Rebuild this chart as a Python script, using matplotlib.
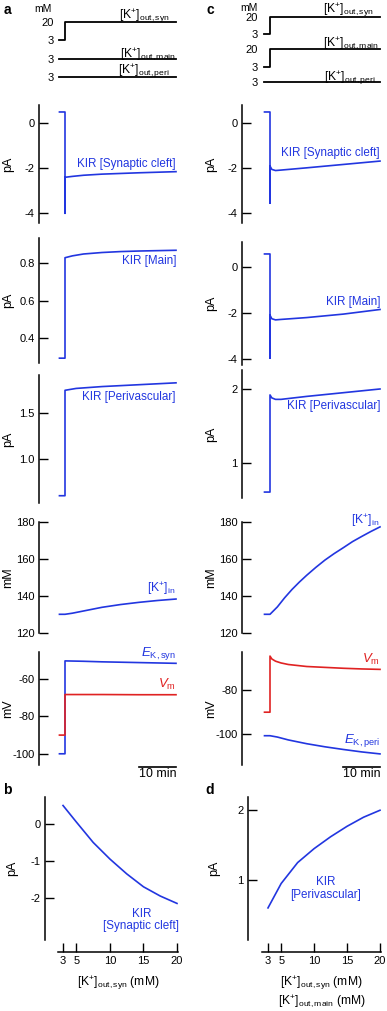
import numpy as np
import matplotlib.pyplot as plt

plt.rcParams['font.family'] = ['Liberation Sans', 'DejaVu Sans']
plt.rcParams['mathtext.fontset'] = 'custom'
plt.rcParams['mathtext.rm'] = 'Liberation Sans'
plt.rcParams['mathtext.it'] = 'Liberation Sans:italic'
plt.rcParams['mathtext.bf'] = 'Liberation Sans:bold'
plt.rcParams['axes.unicode_minus'] = False

BLUE = '#2236e0'
RED = '#e02222'

# ---- time courses (min), [K+]out step at t = 0 ----
# column a : only synaptic cleft K+ raised
a_kout_t = [-1.5, 0, 0, 30]
a_syn_k = [3, 3, 20, 20]
a_main_k = [3, 3, 3, 3]
a_peri_k = [3, 3, 3, 3]

a_syn_t = [-1.5, 0, 0, 0, 2, 5, 10, 20, 30]
a_syn_i = [0.5, 0.5, -4.0, -2.4, -2.36, -2.31, -2.26, -2.2, -2.15]
a_main_t = [-1.5, 0, 0, 2, 5, 10, 15, 20, 25, 30]
a_main_i = [0.29, 0.29, 0.83, 0.84, 0.85, 0.858, 0.863, 0.866, 0.868, 0.87]
a_peri_t = [-1.5, 0, 0, 3, 10, 20, 30]
a_peri_i = [0.61, 0.61, 1.74, 1.76, 1.78, 1.80, 1.82]
a_kin_t = [-1.5, 0, 2, 5, 10, 15, 20, 25, 30]
a_kin = [130, 130, 130.6, 131.8, 133.8, 135.3, 136.5, 137.5, 138.3]
a_ek_t = [-1.5, 0, 0, 5, 10, 20, 30]
a_ek = [-100, -100, -50.3, -50.5, -50.8, -51.2, -51.6]
a_vm_t = [-1.5, 0, 0, 10, 20, 30]
a_vm = [-90, -90, -68.3, -68.3, -68.4, -68.4]

# column c : synaptic cleft and main K+ raised
c_kout_t = [-1.5, 0, 0, 30]
c_syn_k = [3, 3, 20, 20]
c_main_k = [3, 3, 20, 20]
c_peri_k = [3, 3, 3, 3]

c_syn_t = [-1.5, 0, 0, 0, 0.5, 1.5, 3, 10, 20, 30]
c_syn_i = [0.5, 0.5, -3.55, -1.9, -2.05, -2.1, -2.08, -1.98, -1.83, -1.68]
c_main_t = [-1.5, 0, 0, 0, 0.5, 1.5, 3, 10, 20, 30]
c_main_i = [0.55, 0.55, -3.95, -2.1, -2.25, -2.3, -2.28, -2.2, -2.05, -1.85]
c_peri_t = [-1.5, 0, 0, 0.5, 1.5, 3, 10, 20, 30]
c_peri_i = [0.61, 0.61, 1.92, 1.88, 1.86, 1.86, 1.9, 1.95, 2.0]
c_kin_t = [-1.5, 0, 2, 4, 6, 8, 10, 12.5, 15, 17.5, 20, 22.5, 25, 27.5, 30]
c_kin = [130, 130, 134, 139, 143.5, 147.5, 151.2, 155.5, 159.5, 163, 166.2,
         169.5, 172.3, 175, 177.5]
c_vm_t = [-1.5, 0, 0, 0.5, 1.5, 3, 5, 10, 15, 20, 25, 30]
c_vm = [-90, -90, -64.7, -66, -67, -67.8, -68.5, -69.4, -69.8, -70.2, -70.5, -70.7]
c_ek_t = [-1.5, 0, 2, 5, 10, 15, 20, 25, 30]
c_ek = [-100.6, -100.6, -101.2, -102.5, -104.2, -105.6, -106.8, -107.9, -108.8]

# ---- steady state vs [K+]out ----
b_kout = [3, 5, 7.5, 10, 12.5, 15, 17.5, 20]
b_kir_syn = [0.5, 0.05, -0.5, -0.95, -1.35, -1.7, -1.95, -2.15]
d_kout = [3, 5, 7.5, 10, 12.5, 15, 17.5, 20]
d_kir_peri = [0.6, 0.95, 1.25, 1.45, 1.62, 1.77, 1.9, 2.0]

W, H = 387, 1011
fig = plt.figure(figsize=(W / 100, H / 100), dpi=100)

# x0 = pixel of t=0, s = pixels per min, spine x, right edge
COLS = {'a': (65, 3.7, 39, 178), 'c': (270, 3.667, 242, 381)}
FS = 8        # tick labels
LFS = 8.4     # trace labels
KFS = 8.7     # [K+] labels
YFS = 9       # axis labels


def px_axes(left, top, right, bottom):
    return fig.add_axes([left / W, 1 - bottom / H, (right - left) / W, (bottom - top) / H])


def trace_axes(col, top, bottom, ylim, yticks, left=None, spine=True):
    x0, s, l, r = COLS[col]
    if left is None:
        left = l
    ax = px_axes(left, top, r, bottom)
    ax.set_xlim((left - x0) / s, (r - x0) / s)
    ax.set_ylim(*ylim)
    ax.patch.set_visible(False)
    for sp in ['top', 'right', 'bottom']:
        ax.spines[sp].set_visible(False)
    ax.spines['left'].set_visible(spine)
    ax.spines['left'].set_linewidth(1.1)
    ax.set_xticks([])
    ax.set_yticks(yticks)
    ax.tick_params(axis='y', direction='in', length=6.5 if spine else 0,
                   width=1, pad=3 if spine else 2, labelsize=FS)
    return ax


def tag(ax, text, t, y, dx, dy, color, size=LFS, va='center'):
    # dx, dy in pixels (dy positive = downward)
    ax.annotate(text, (t, y), xytext=(dx * 0.72, -dy * 0.72), textcoords='offset points',
                ha='right', va=va, color=color, fontsize=size)


def ylab(ax, text):
    ax.set_ylabel(text, fontsize=YFS)
    ax.yaxis.set_label_coords(-0.18, 0.5)


# ---- [K+]out protocol traces ----
kout_rows = {
    'a': [(22.3, 40, a_syn_k, [3, 20], r'[K$^{+}$]$_{\mathrm{out,syn}}$', -6, 3),
          (41.3, 59, a_main_k, [3], r'[K$^{+}$]$_{\mathrm{out,main}}$', 0, 4),
          (59.6, 77.3, a_peri_k, [3], r'[K$^{+}$]$_{\mathrm{out,peri}}$', -6, 3)],
    'c': [(16.7, 34.3, c_syn_k, [3, 20], r'[K$^{+}$]$_{\mathrm{out,syn}}$', -6, 2),
          (49.3, 66.7, c_main_k, [3, 20], r'[K$^{+}$]$_{\mathrm{out,main}}$', -1, 3),
          (64, 81.7, c_peri_k, [3], r'[K$^{+}$]$_{\mathrm{out,peri}}$', -4, 5)],
}
kout_t = {'a': a_kout_t, 'c': c_kout_t}
kout_left = {'a': 57, 'c': 261}
for col, rows in kout_rows.items():
    for top, bot, vals, ticks, lab, dx, gap in rows:
        ax = trace_axes(col, top, bot, (3, 20), ticks, left=kout_left[col], spine=False)
        ax.plot(kout_t[col], vals, color='black', lw=1.3, clip_on=False)
        tag(ax, lab, 30, vals[-1], dx, gap, 'black', size=KFS, va='bottom')

fig.text(43 / W, 1 - 9 / H, 'mM', ha='center', va='center', fontsize=7.5)
fig.text(249 / W, 1 - 8 / H, 'mM', ha='center', va='center', fontsize=7.5)

# ---- KIR currents ----
ax = trace_axes('a', 105, 223, (-4.43, 0.81), [-4, -2, 0])
ax.plot(a_syn_t, a_syn_i, color=BLUE, lw=1.2)
tag(ax, 'KIR [Synaptic cleft]', 30, a_syn_i[-1], 0, -7.7, BLUE)
ylab(ax, 'pA')

ax = trace_axes('c', 105, 223, (-4.43, 0.81), [-4, -2, 0])
ax.plot(c_syn_t, c_syn_i, color=BLUE, lw=1.2)
tag(ax, 'KIR [Synaptic cleft]', 30, c_syn_i[-1], 0, -7.7, BLUE)
ylab(ax, 'pA')

ax = trace_axes('a', 238, 363, (0.264, 0.936), [0.4, 0.6, 0.8])
ax.plot(a_main_t, a_main_i, color=BLUE, lw=1.2)
tag(ax, 'KIR [Main]', 30, a_main_i[-1], 0, 10.3, BLUE)
ylab(ax, 'pA')

ax = trace_axes('c', 241.7, 365, (-4.25, 1.08), [-4, -2, 0])
ax.plot(c_main_t, c_main_i, color=BLUE, lw=1.2)
tag(ax, 'KIR [Main]', 30, c_main_i[-1], 0, -7.3, BLUE)
ylab(ax, 'pA')

ax = trace_axes('a', 375, 503, (0.532, 1.904), [1, 1.5])
ax.plot(a_peri_t, a_peri_i, color=BLUE, lw=1.2)
tag(ax, 'KIR [Perivascular]', 30, a_peri_i[-1], 0, 14, BLUE)
ylab(ax, 'pA')

ax = trace_axes('c', 370, 498, (0.53, 2.256), [1, 2])
ax.plot(c_peri_t, c_peri_i, color=BLUE, lw=1.2)
tag(ax, 'KIR [Perivascular]', 30, c_peri_i[-1], 0, 16.7, BLUE)
ylab(ax, 'pA')

# ---- intracellular K+ ----
ax = trace_axes('a', 522.3, 632.7, (120, 180), [120, 140, 160, 180])
ax.plot(a_kin_t, a_kin, color=BLUE, lw=1.2)
tag(ax, r'[K$^{+}$]$_{\mathrm{in}}$', 30, a_kin[-1], 0, -10, BLUE, size=KFS)
ylab(ax, 'mM')

ax = trace_axes('c', 522.3, 632.7, (120, 180), [120, 140, 160, 180])
ax.plot(c_kin_t, c_kin, color=BLUE, lw=1.2)
tag(ax, r'[K$^{+}$]$_{\mathrm{in}}$', 30, c_kin[-1], 0, -6, BLUE, size=KFS)
ylab(ax, 'mM')


# ---- potentials ----
def scale_bar(ax):
    ax.plot([20, 30], [-0.015, -0.015], color='black', lw=1.2, clip_on=False,
            transform=ax.get_xaxis_transform())
    ax.text(25, -0.03, '10 min', ha='center', va='top', fontsize=8.9,
            transform=ax.get_xaxis_transform())


ax = trace_axes('a', 652.3, 765, (-106, -45.7), [-100, -80, -60])
ax.plot(a_ek_t, a_ek, color=BLUE, lw=1.2)
ax.plot(a_vm_t, a_vm, color=RED, lw=1.2)
tag(ax, r'$E_{\mathrm{K,syn}}$', 30, a_ek[-1], 0, -10, BLUE, size=9.5)
tag(ax, r'$V_{\mathrm{m}}$', 30, a_vm[-1], 0, -10, RED, size=9.5)
ylab(ax, 'mV')
scale_bar(ax)

ax = trace_axes('c', 652.3, 765, (-113.8, -63), [-100, -80])
ax.plot(c_vm_t, c_vm, color=RED, lw=1.2)
ax.plot(c_ek_t, c_ek, color=BLUE, lw=1.2)
tag(ax, r'$V_{\mathrm{m}}$', 30, c_vm[-1], 0, -10, RED, size=9.5)
tag(ax, r'$E_{\mathrm{K,peri}}$', 30, c_ek[-1], 0, -13, BLUE, size=9.5)
ylab(ax, 'mV')
scale_bar(ax)


# ---- steady state panels b, d ----
def ss_axes(left, right, top, bottom, xlim, ylim, yticks, out_left, out_bottom):
    ax = px_axes(left, top, right, bottom)
    ax.set_xlim(*xlim)
    ax.set_ylim(*ylim)
    ax.patch.set_visible(False)
    ax.spines['top'].set_visible(False)
    ax.spines['right'].set_visible(False)
    ax.spines['left'].set_position(('outward', out_left * 0.72))
    ax.spines['bottom'].set_position(('outward', out_bottom * 0.72))
    for sp in ['left', 'bottom']:
        ax.spines[sp].set_linewidth(1.1)
    ax.set_xticks([3, 5, 10, 15, 20])
    ax.set_yticks(yticks)
    ax.tick_params(direction='in', length=6.5, width=1, pad=3, labelsize=FS)
    ax.set_ylabel('pA', fontsize=YFS)
    return ax


ax = ss_axes(58, 178, 797, 940, (2.25, 20.15), (-3.14, 0.73), [-2, -1, 0], 13, 12)
ax.plot(b_kout, b_kir_syn, color=BLUE, lw=1.2)
ax.text(14.7, -2.6, 'KIR\n[Synaptic cleft]', ha='center', va='center', color=BLUE,
        fontsize=LFS, linespacing=1.1)
ax.set_xlabel(r'[K$^{+}$]$_{\mathrm{out,syn}}$ (mM)', fontsize=KFS, labelpad=6)
ax.yaxis.set_label_coords(-0.33, 0.5)

ax = ss_axes(262, 381, 797, 940, (2.09, 20.15), (0.14, 2.19), [1, 2], 14, 12)
ax.plot(d_kout, d_kir_peri, color=BLUE, lw=1.2)
ax.text(11.7, 0.88, 'KIR\n[Perivascular]', ha='center', va='center', color=BLUE,
        fontsize=LFS, linespacing=1.1)
ax.set_xlabel(r'[K$^{+}$]$_{\mathrm{out,syn}}$ (mM)' + '\n' +
              r'[K$^{+}$]$_{\mathrm{out,main}}$ (mM)', fontsize=KFS, labelpad=6,
              linespacing=1.1)
ax.yaxis.set_label_coords(-0.35, 0.5)

# ---- panel letters ----
for lab, x, y in [('a', 7, 10), ('c', 210, 10), ('b', 7, 790), ('d', 210, 790)]:
    fig.text(x / W, 1 - y / H, lab, fontsize=10, fontweight='bold', ha='center', va='center')

fig.savefig('out.png', dpi=100)
